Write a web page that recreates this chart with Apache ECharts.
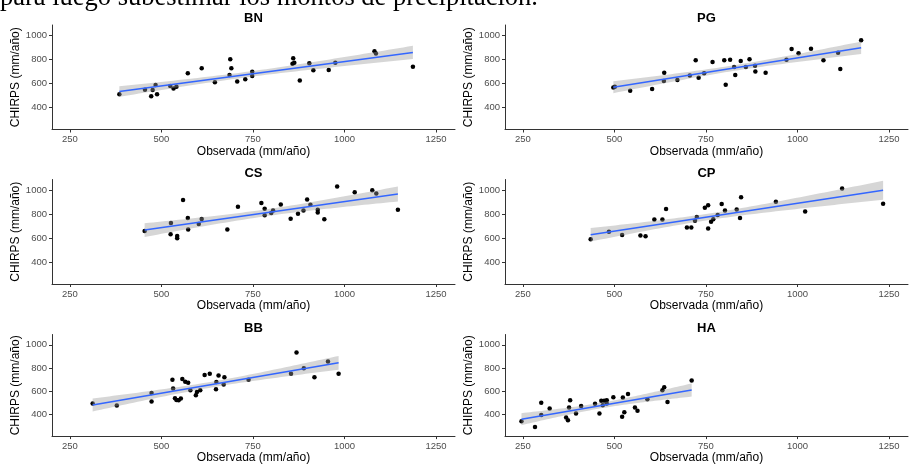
<!DOCTYPE html>
<html>
<head>
<meta charset="utf-8">
<script src="https://cdn.jsdelivr.net/npm/echarts@6/dist/echarts.min.js"></script>
<style>
html,body{margin:0;padding:0;background:#fff;}
#chart{width:909px;height:465px;}
</style>
</head>
<body>
<div id="chart"></div>
<script>
// panels in figure order (row by row)
var panelNames = ['BN', 'PG', 'CS', 'CP', 'BB', 'HA'];

var bnObs    = [385, 455, 472, 476, 484, 488, 524, 533, 541, 572, 610, 646, 686, 688, 691, 707, 729, 748, 748, 858, 860, 863, 878, 904, 915, 957, 975, 1082, 1086, 1187];
var bnChirps = [510, 548, 494, 545, 587, 510, 579, 559, 573, 685, 727, 610, 672, 802, 727, 616, 636, 698, 663, 765, 811, 774, 626, 769, 712, 713, 774, 870, 850, 741];

var pgObs    = [497, 501, 543, 603, 635, 636, 672, 706, 722, 730, 745, 768, 800, 804, 816, 827, 830, 845, 859, 869, 884, 885, 913, 970, 984, 1003, 1037, 1071, 1111, 1117, 1174];
var pgChirps = [567, 573, 540, 554, 621, 690, 629, 668, 794, 648, 685, 780, 794, 590, 799, 738, 671, 788, 738, 802, 749, 701, 690, 799, 888, 852, 891, 794, 858, 721, 961];

var csObs    = [454, 526, 525, 543, 543, 559, 572, 573, 602, 610, 680, 709, 773, 782, 782, 800, 805, 826, 853, 873, 888, 898, 907, 927, 927, 945, 980, 1028, 1076, 1087, 1146];
var csChirps = [658, 725, 632, 618, 598, 918, 768, 672, 717, 759, 672, 861, 892, 844, 791, 810, 830, 881, 762, 802, 830, 921, 878, 836, 813, 757, 1031, 983, 1000, 972, 836];

var cpObs    = [435, 485, 521, 571, 585, 609, 631, 641, 698, 710, 720, 725, 747, 756, 756, 764, 770, 782, 793, 802, 834, 843, 846, 941, 1021, 1122, 1234];
var cpChirps = [590, 652, 626, 621, 615, 754, 754, 842, 689, 689, 745, 776, 853, 873, 680, 737, 757, 793, 884, 830, 839, 768, 941, 904, 822, 1014, 887];

var bbObs    = [312, 378, 473, 473, 530, 532, 537, 541, 547, 553, 557, 565, 573, 579, 594, 597, 606, 618, 632, 649, 650, 656, 670, 672, 738, 854, 869, 889, 918, 955, 984];
var bbChirps = [496, 479, 587, 513, 700, 624, 542, 527, 525, 539, 706, 683, 675, 609, 567, 595, 609, 740, 751, 618, 680, 737, 660, 722, 700, 751, 935, 799, 722, 858, 751];

var haObs    = [246, 283, 300, 300, 323, 368, 373, 376, 379, 395, 409, 447, 459, 464, 468, 472, 479, 479, 497, 521, 523, 527, 537, 556, 563, 590, 631, 636, 645, 711];
var haChirps = [343, 295, 397, 502, 454, 375, 352, 462, 525, 411, 474, 493, 411, 519, 482, 519, 525, 496, 550, 383, 547, 420, 578, 462, 434, 533, 609, 635, 510, 694];

var xTicks = [250, 500, 750, 1000, 1250];
var yTicks = [400, 600, 800, 1000];

var panelObs = [bnObs, pgObs, csObs, cpObs, bbObs, haObs];
var panelChirps = [bnChirps, pgChirps, csChirps, cpChirps, bbChirps, haChirps];

// linear fit with 95% confidence band (like geom_smooth(method = "lm"))
function lmFit(xs, ys) {
  var n = xs.length, mx = 0, my = 0;
  for (var i = 0; i < n; i++) { mx += xs[i]; my += ys[i]; }
  mx /= n; my /= n;
  var sxx = 0, sxy = 0;
  for (var i = 0; i < n; i++) {
    sxx += (xs[i] - mx) * (xs[i] - mx);
    sxy += (xs[i] - mx) * (ys[i] - my);
  }
  var b = sxy / sxx, a = my - b * mx;
  var sse = 0;
  for (var i = 0; i < n; i++) {
    var r = ys[i] - (a + b * xs[i]);
    sse += r * r;
  }
  var s = Math.sqrt(sse / (n - 2));
  var t = 2.045;
  var x0 = Math.min.apply(null, xs), x1 = Math.max.apply(null, xs);
  var line = [], upper = [], lower = [];
  for (var k = 0; k <= 60; k++) {
    var x = x0 + (x1 - x0) * k / 60;
    var fit = a + b * x;
    var se = s * Math.sqrt(1 / n + (x - mx) * (x - mx) / sxx);
    line.push([x, fit]);
    upper.push([x, fit + t * se]);
    lower.push([x, fit - t * se]);
  }
  return { line: line, upper: upper, lower: lower };
}

var chart = echarts.init(document.getElementById('chart'), null, { renderer: 'canvas' });

var colLeft = [52, 505];
var rowTop = [25, 179.5, 334.5];
var gw = 403, gh = 104.5;

var grids = [], xAxes = [], yAxes = [], series = [], graphics = [];

// leftover line of the page text, cut off at the top of the picture
graphics.push({
  type: 'text', x: 0, y: -1.5,
  style: {
    text: 'para luego subestimar los montos de precipitación.',
    font: '26.5px "Liberation Serif"', fill: '#000',
    verticalAlign: 'middle'
  }
});

function plain(v) { return String(v); }

panelNames.forEach(function (name, i) {
  var col = i % 2, row = Math.floor(i / 2);
  var left = colLeft[col], top = rowTop[row];
  grids.push({ left: left, top: top, width: gw, height: gh });

  xAxes.push({
    gridIndex: i, type: 'value', min: 201, max: 1302,
    name: 'Observada (mm/año)', nameLocation: 'middle', nameGap: 15,
    nameTextStyle: { fontFamily: 'Liberation Sans', fontSize: 12, color: '#000' },
    splitLine: { show: false },
    axisLine: { lineStyle: { color: '#333', width: 1 } },
    axisTick: { length: 3, lineStyle: { color: '#333' }, customValues: xTicks },
    axisLabel: { customValues: xTicks, formatter: plain, margin: 5, fontFamily: 'Liberation Sans', fontSize: 9.5, color: '#4d4d4d' }
  });
  yAxes.push({
    gridIndex: i, type: 'value', min: 216, max: 1089,
    name: 'CHIRPS (mm/año)', nameLocation: 'middle', nameGap: 27, nameRotate: 90,
    nameTextStyle: { fontFamily: 'Liberation Sans', fontSize: 12, color: '#000' },
    splitLine: { show: false },
    axisLine: { show: true, lineStyle: { color: '#333', width: 1 } },
    axisTick: { show: true, length: 3, lineStyle: { color: '#333' }, customValues: yTicks },
    axisLabel: { customValues: yTicks, formatter: plain, margin: 5, fontFamily: 'Liberation Sans', fontSize: 9.5, color: '#4d4d4d' }
  });

  graphics.push({
    type: 'text', x: left + gw / 2, y: top - 6.5,
    style: {
      text: name, font: 'bold 13px "Liberation Sans"', fill: '#000',
      align: 'center', verticalAlign: 'middle'
    }
  });

  var xs = panelObs[i], ys = panelChirps[i];
  var pts = xs.map(function (x, j) { return [x, ys[j]]; });
  var fit = lmFit(xs, ys);

  series.push({
    type: 'scatter', xAxisIndex: i, yAxisIndex: i, data: pts,
    symbolSize: 4.5, itemStyle: { color: '#000', opacity: 1 }, z: 2, silent: true
  });
  series.push({
    type: 'custom', xAxisIndex: i, yAxisIndex: i, z: 3, silent: true,
    data: [fit.line[0]],
    renderItem: function (params, api) {
      var poly = fit.upper.map(function (p) { return api.coord(p); });
      var low = fit.lower.slice().reverse().map(function (p) { return api.coord(p); });
      return {
        type: 'polygon',
        shape: { points: poly.concat(low) },
        style: { fill: 'rgba(153,153,153,0.4)' }
      };
    }
  });
  series.push({
    type: 'line', xAxisIndex: i, yAxisIndex: i, data: [fit.line[0], fit.line[fit.line.length - 1]],
    showSymbol: false, symbol: 'none', z: 4, silent: true,
    lineStyle: { color: '#3366FF', width: 1.5 }
  });
});

chart.setOption({
  animation: false,
  backgroundColor: '#fff',
  grid: grids,
  xAxis: xAxes,
  yAxis: yAxes,
  series: series,
  graphic: graphics
});
</script>
</body>
</html>
